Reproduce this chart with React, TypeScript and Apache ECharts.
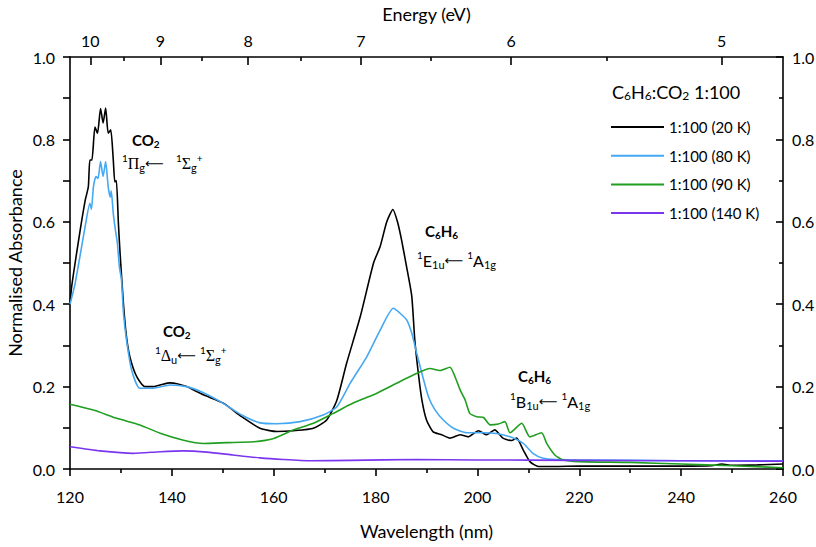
import React, { useEffect, useRef } from "react";
import * as echarts from "echarts";

// ---------------- DATA ----------------
const wl20 = [120, 120.3, 121, 122, 123, 123.6, 123.9, 124.3, 124.9, 125.4, 126.0, 126.5, 127.0, 127.5, 128.0, 128.5, 128.8, 129.1, 129.5, 129.8, 130.5, 131.1, 131.8, 133.1, 134.7, 136.4, 138, 139.6, 141, 142.9, 146.2, 150.1, 153.7, 157.3, 160.6, 163.9, 167.8, 170.4, 172.4, 174.3, 177, 179.6, 180.9, 182.2, 183.4, 184.3, 185.1, 186.1, 187.1, 187.7, 188.4, 189.1, 190, 191.3, 193, 194.6, 196.6, 198.2, 200.2, 201.8, 203.4, 205, 206.7, 207.7, 209, 210.3, 212, 215, 220, 230, 240, 246, 248, 250, 255, 260];
const abs20 = [0.40, 0.44, 0.50, 0.58, 0.653, 0.685, 0.75, 0.75, 0.83, 0.815, 0.875, 0.84, 0.876, 0.815, 0.823, 0.75, 0.697, 0.70, 0.597, 0.53, 0.40, 0.32, 0.27, 0.224, 0.20, 0.20, 0.205, 0.209, 0.207, 0.20, 0.18, 0.16, 0.127, 0.099, 0.091, 0.093, 0.099, 0.119, 0.167, 0.256, 0.37, 0.50, 0.54, 0.60, 0.63, 0.60, 0.556, 0.49, 0.42, 0.313, 0.232, 0.167, 0.119, 0.09, 0.083, 0.075, 0.083, 0.078, 0.093, 0.083, 0.095, 0.075, 0.069, 0.075, 0.046, 0.018, 0.006, 0.006, 0.007, 0.007, 0.007, 0.008, 0.012, 0.009, 0.01, 0.012];

const wl80 = [120, 121, 123, 123.9, 124.2, 124.6, 125.1, 125.5, 126, 126.5, 127, 127.5, 127.9, 128.1, 128.5, 128.8, 129.3, 129.7, 130.1, 130.5, 131.1, 132.1, 133.7, 136.4, 139.6, 142.9, 146.2, 150, 153.7, 157.3, 160.6, 165.2, 169.7, 172.4, 175, 178.3, 180.9, 183.5, 184.8, 186.1, 187.1, 188.1, 189.1, 190.4, 191.7, 193.3, 195.3, 197.9, 201.2, 203.8, 206.4, 209, 210.9, 212.9, 215.5, 220, 240, 260];
const abs80 = [0.40, 0.45, 0.59, 0.645, 0.63, 0.685, 0.71, 0.705, 0.746, 0.71, 0.746, 0.685, 0.66, 0.675, 0.62, 0.59, 0.548, 0.49, 0.46, 0.378, 0.313, 0.24, 0.196, 0.196, 0.204, 0.20, 0.185, 0.16, 0.131, 0.112, 0.11, 0.115, 0.131, 0.151, 0.208, 0.273, 0.337, 0.39, 0.378, 0.362, 0.33, 0.28, 0.232, 0.175, 0.143, 0.119, 0.099, 0.088, 0.088, 0.086, 0.078, 0.062, 0.038, 0.026, 0.023, 0.022, 0.02, 0.02];

const wl90 = [120, 124.6, 129.2, 133.7, 137.7, 142.3, 146.2, 150.8, 156, 160, 163.9, 167.8, 171.7, 175.6, 179.6, 180.9, 184.1, 187.4, 190.7, 192.6, 194.6, 195.6, 196.6, 197.6, 198.5, 199.9, 201.2, 202.5, 204.1, 205.4, 206.4, 208.7, 210.3, 212.6, 213.6, 215.2, 216.8, 220, 230, 240, 250, 260];
const abs90 = [0.157, 0.143, 0.123, 0.107, 0.087, 0.07, 0.062, 0.064, 0.066, 0.074, 0.095, 0.111, 0.135, 0.16, 0.18, 0.188, 0.208, 0.228, 0.244, 0.239, 0.247, 0.224, 0.192, 0.167, 0.135, 0.127, 0.125, 0.107, 0.109, 0.115, 0.088, 0.111, 0.078, 0.088, 0.062, 0.034, 0.022, 0.018, 0.016, 0.012, 0.008, 0.003];

const wl140 = [120, 125.9, 132.4, 137.7, 142.3, 146.9, 152, 157.3, 161.9, 167.1, 175, 188, 200, 220, 240, 260];
const abs140 = [0.054, 0.044, 0.038, 0.042, 0.044, 0.041, 0.034, 0.027, 0.023, 0.02, 0.021, 0.023, 0.022, 0.021, 0.02, 0.019];

const seriesNames = ["1:100 (20 K)", "1:100 (80 K)", "1:100 (90 K)", "1:100 (140 K)"];
const seriesColors = ["#000000", "#45a8f3", "#1f9e1f", "#7a36ef"];

const energyTicks = [10, 9, 8, 7, 6, 5];
const energyMinorTicks = [9.5, 8.5, 7.5, 6.5, 5.5];
const HC = 1239.84; // eV·nm

const FONT = "Lato";
const SERIF = "Liberation Serif";

// rich-text styles for annotations (super/subscripts)
const rich: Record<string, any> = {
  n: { fontFamily: FONT, fontSize: 16, lineHeight: 16, color: "#000" },
  g: { fontFamily: SERIF, fontSize: 16, lineHeight: 16, color: "#000" },
  b: { fontFamily: FONT, fontSize: 15, fontWeight: "bold", lineHeight: 16, color: "#000" },
  bs: { fontFamily: FONT, fontSize: 10, fontWeight: "bold", lineHeight: 16, padding: [8, 0, 0, 0], color: "#000" },
  sub: { fontFamily: FONT, fontSize: 11, lineHeight: 16, padding: [8, 0, 0, 0], color: "#000" },
  sup: { fontFamily: FONT, fontSize: 10, lineHeight: 16, padding: [0, 0, 10, 0], color: "#000" },
  ar: { fontFamily: "DejaVu Sans", fontSize: 13, lineHeight: 16, color: "#000" },
  L: { fontFamily: FONT, fontSize: 18, lineHeight: 18, color: "#000" },
  Ls: { fontFamily: FONT, fontSize: 12, lineHeight: 18, padding: [8, 0, 0, 0], color: "#000" },
};

// annotation: [left, baseline, rich text, line middle offset, main font size]
const annotations: [number, number, string, number, number][] = [
  [612, 102, "{L|C}{Ls|6}{L|H}{Ls|6}{L|:CO}{Ls|2}{L| 1:100}", 13, 18],
  [132, 149, "{b|CO}{bs|2}", 12, 15],
  [122, 174, "{sup|1}{g|Π}{sub|g}{ar|⟵}{n|   }{sup|1}{g|Σ}{sub|g}{sup|+}", 13, 16],
  [163, 340, "{b|CO}{bs|2}", 12, 15],
  [155, 366, "{sup|1}{g|Δ}{sub|u}{ar|⟵}{n| }{sup|1}{g|Σ}{sub|g}{sup|+}", 13, 16],
  [425, 240, "{b|C}{bs|6}{b|H}{bs|6}", 12, 15],
  [417, 271, "{sup|1}{n|E}{sub|1u}{ar|⟵}{n| }{sup|1}{n|A}{sub|1g}", 13, 16],
  [518, 385, "{b|C}{bs|6}{b|H}{bs|6}", 12, 15],
  [510, 412, "{sup|1}{n|B}{sub|1u}{ar|⟵}{n| }{sup|1}{n|A}{sub|1g}", 13, 16],
];

const ls = () => ({ color: "#000000", width: 1.6 });

export default function App() {
  const ref = useRef<HTMLDivElement>(null);
  useEffect(() => {
    if (!ref.current) return;
    const chart = echarts.init(ref.current, undefined, { renderer: "svg" });
    const pairs = (xs: number[], ys: number[]) => xs.map((x, i) => [x, ys[i]]);
    const datasets = [pairs(wl20, abs20), pairs(wl80, abs80), pairs(wl90, abs90), pairs(wl140, abs140)];
    const labelStyle = { color: "#000", fontFamily: FONT, fontSize: 16 };
    const nameStyle = { color: "#000", fontFamily: FONT, fontSize: 18 };

    chart.setOption({
      animation: false,
      backgroundColor: "#ffffff",
      grid: { left: 70, right: 33, top: 57, bottom: 78, containLabel: false, outerBoundsMode: "none" },
      title: annotations.map(([left, baseline, text, mid, size]) => ({
        left,
        top: baseline - mid - size * 0.36,
        padding: 0,
        text,
        textStyle: { fontFamily: FONT, fontSize: 16, fontWeight: "normal", color: "#000", rich },
      })),
      legend: {
        orient: "vertical",
        left: 611,
        top: 117,
        padding: 0,
        itemWidth: 53,
        itemHeight: 2,
        itemGap: 8.7,
        icon: "rect",
        textStyle: { fontFamily: FONT, fontSize: 15, color: "#000", lineHeight: 20 },
        data: seriesNames,
      },
      xAxis: [
        {
          type: "value", position: "bottom", min: 120, max: 260, interval: 20,
          name: "Wavelength (nm)", nameLocation: "middle", nameGap: 53, nameTextStyle: nameStyle, nameMoveOverlap: false,
          axisLine: { show: true, onZero: false, lineStyle: ls() },
          axisTick: { show: true, length: 7, lineStyle: ls() },
          minorTick: { show: true, splitNumber: 2, length: 4, lineStyle: ls() },
          axisLabel: { ...labelStyle, margin: 19 },
          splitLine: { show: false },
        },
        {
          type: "value", position: "top", min: 120, max: 260,
          name: "Energy (eV)", nameLocation: "middle", nameGap: 34, nameTextStyle: nameStyle, nameMoveOverlap: false,
          axisLine: { show: true, onZero: false, lineStyle: ls() },
          axisTick: { show: true, inside: true, length: 8, lineStyle: ls(), customValues: energyTicks.map((e) => HC / e) },
          axisLabel: { ...labelStyle, margin: 9, customValues: energyTicks.map((e) => HC / e), formatter: (v: number) => String(Math.round(HC / v)) },
          splitLine: { show: false },
        },
        {
          type: "value", position: "top", min: 120, max: 260,
          axisLine: { show: false, onZero: false },
          axisTick: { show: true, inside: true, length: 4, lineStyle: ls(), customValues: energyMinorTicks.map((e) => HC / e) },
          axisLabel: { show: false },
          splitLine: { show: false },
        },
      ],
      yAxis: [
        {
          type: "value", position: "left", min: 0, max: 1, interval: 0.2,
          name: "Normalised Absorbance", nameLocation: "middle", nameGap: 46, nameRotate: 90, nameTextStyle: nameStyle, nameMoveOverlap: false,
          axisLine: { show: true, onZero: false, lineStyle: ls() },
          axisTick: { show: true, length: 7, lineStyle: ls() },
          minorTick: { show: true, splitNumber: 2, length: 7, lineStyle: ls() },
          axisLabel: { ...labelStyle, margin: 15, formatter: (v: number) => v.toFixed(1) },
          splitLine: { show: false },
        },
        {
          type: "value", position: "right", min: 0, max: 1, interval: 0.2,
          axisLine: { show: true, onZero: false, lineStyle: ls() },
          axisTick: { show: true, inside: true, length: 7, lineStyle: ls() },
          minorTick: { show: true, splitNumber: 2, length: 4, lineStyle: ls() },
          axisLabel: { ...labelStyle, margin: 9, formatter: (v: number) => v.toFixed(1) },
          splitLine: { show: false },
        },
      ],
      series: seriesNames.map((name, i) => ({
        name,
        type: "line",
        xAxisIndex: 0,
        yAxisIndex: 0,
        data: datasets[i],
        showSymbol: false,
        symbol: "none",
        smooth: 0.2,
        lineStyle: { color: seriesColors[i], width: 1.6 },
        itemStyle: { color: seriesColors[i] },
      })),
    });
    return () => chart.dispose();
  }, []);
  return <div ref={ref} style={{ position: "fixed", left: 0, top: 0, width: 816, height: 547 }} />;
}
